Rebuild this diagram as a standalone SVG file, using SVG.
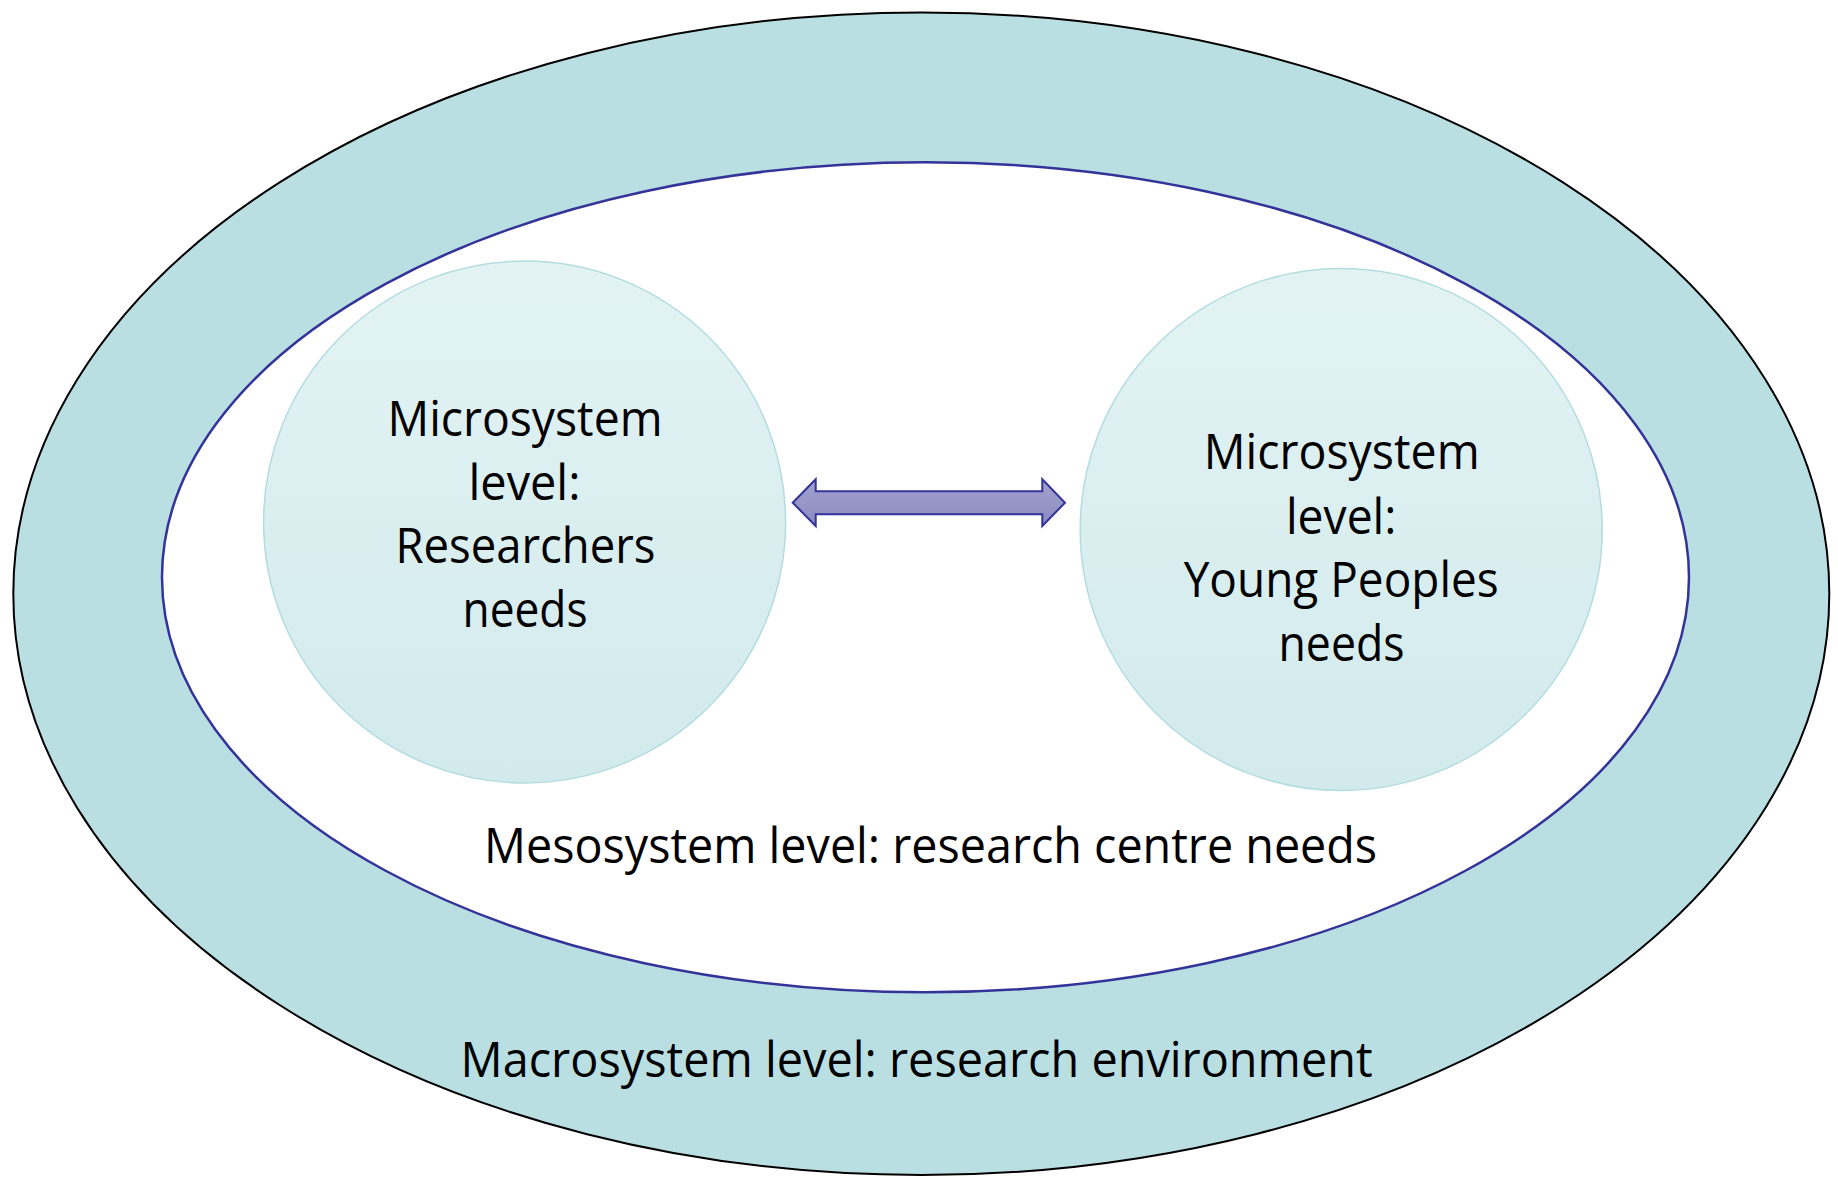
<svg xmlns="http://www.w3.org/2000/svg" width="1838" height="1178" viewBox="0 0 1838 1178">
  <style>
    .lbl { font-family: "Open Sans", "Liberation Sans", sans-serif; font-size: 49px; fill: #000; text-anchor: middle; }
    .micro { fill: url(#circGrad); stroke: #b3dcdf; stroke-width: 1.5; }
  </style>
  <defs>
    <linearGradient id="circGrad" x1="0" y1="0" x2="0" y2="1">
      <stop offset="0" stop-color="#e3f3f4"/>
      <stop offset="1" stop-color="#d2eaec"/>
    </linearGradient>
    <linearGradient id="arrowGrad" x1="0" y1="0" x2="0" y2="1">
      <stop offset="0" stop-color="#a3a3d0"/>
      <stop offset="1" stop-color="#8a8abf"/>
    </linearGradient>
  </defs>
  <rect width="1838" height="1178" fill="#ffffff"/>

  <g id="macrosystem">
    <ellipse cx="921.3" cy="593.7" rx="908" ry="581.3" fill="#b9dfe2" stroke="#000" stroke-width="2"/>
    <text class="lbl" x="916.6" y="1077" textLength="912" lengthAdjust="spacingAndGlyphs">Macrosystem level: research environment</text>
  </g>

  <g id="mesosystem">
    <ellipse cx="925.5" cy="577.3" rx="763.5" ry="415" fill="#ffffff" stroke="#333399" stroke-width="2.5"/>
    <text class="lbl" x="930.6" y="863" textLength="893" lengthAdjust="spacingAndGlyphs">Mesosystem level: research centre needs</text>
  </g>

  <g id="micro-researchers">
    <circle class="micro" cx="524.6" cy="522" r="261"/>
    <text class="lbl" x="525" y="436" textLength="275" lengthAdjust="spacingAndGlyphs">Microsystem</text>
    <text class="lbl" x="524.5" y="499.5" textLength="112" lengthAdjust="spacingAndGlyphs">level:</text>
    <text class="lbl" x="525.4" y="563" textLength="260" lengthAdjust="spacingAndGlyphs">Researchers</text>
    <text class="lbl" x="525" y="627" textLength="125" lengthAdjust="spacingAndGlyphs">needs</text>
  </g>

  <g id="micro-young-peoples">
    <circle class="micro" cx="1341.2" cy="529.5" r="261"/>
    <text class="lbl" x="1341.7" y="469" textLength="276" lengthAdjust="spacingAndGlyphs">Microsystem</text>
    <text class="lbl" x="1341.2" y="533.8" textLength="110.5" lengthAdjust="spacingAndGlyphs">level:</text>
    <text class="lbl" x="1341.2" y="597" textLength="315" lengthAdjust="spacingAndGlyphs">Young Peoples</text>
    <text class="lbl" x="1341.5" y="661" textLength="126" lengthAdjust="spacingAndGlyphs">needs</text>
  </g>

  <g id="connectors">
    <path d="M792.7,502.7 L815.7,479.3 L815.7,491.3 L1042.3,491.3 L1042.3,479.3 L1065,502.7 L1042.3,526 L1042.3,514.3 L815.7,514.3 L815.7,526 Z" fill="url(#arrowGrad)" stroke="#333399" stroke-width="2" stroke-linejoin="miter"/>
  </g>
</svg>
